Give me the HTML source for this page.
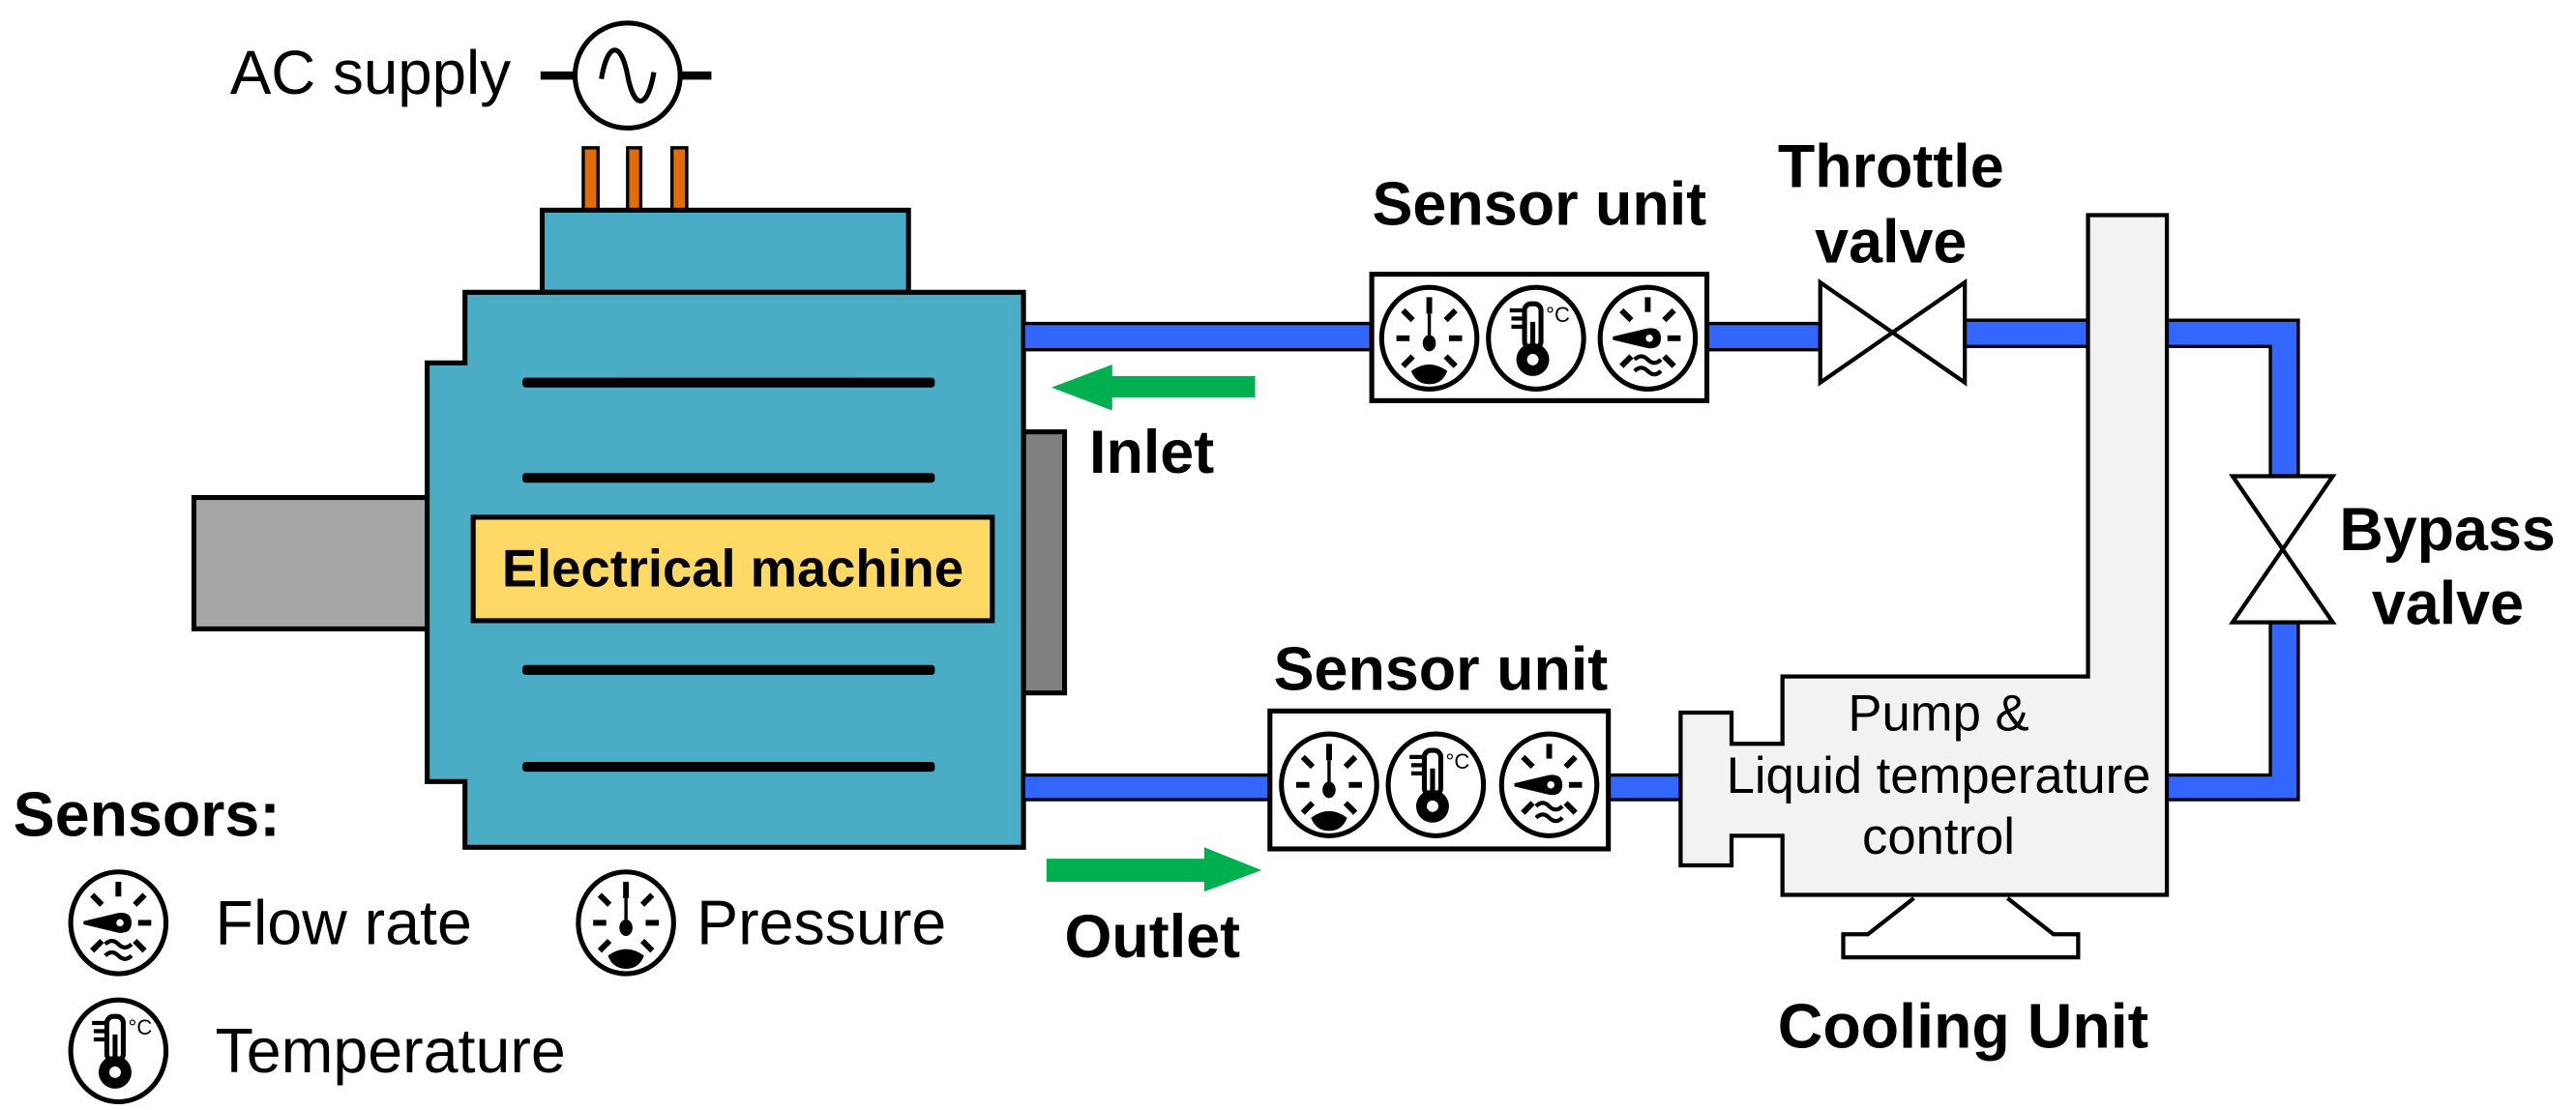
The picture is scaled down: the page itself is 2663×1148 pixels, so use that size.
<!DOCTYPE html>
<html><head><meta charset="utf-8"><style>
html,body{margin:0;padding:0;background:#fff;}
svg{display:block;}
text{font-family:"Liberation Sans",Arial,sans-serif;}
.b{font-weight:bold;}
</style></head><body>
<svg width="2663" height="1148" viewBox="0 0 1568 676" xmlns="http://www.w3.org/2000/svg">
<defs>
<g id="pr">
<ellipse cx="0" cy="0" rx="29" ry="31" fill="#fff" stroke="#000" stroke-width="3"/>
<g stroke="#000" stroke-width="3.5">
<line x1="0" y1="-25" x2="0" y2="-15"/>
<line x1="-20" y1="0" x2="-12" y2="0"/><line x1="12" y1="0" x2="20" y2="0"/>
<line x1="-16" y1="-17" x2="-10" y2="-11"/><line x1="16" y1="-17" x2="10" y2="-11"/>
<line x1="-16" y1="17" x2="-10" y2="11"/><line x1="16" y1="17" x2="10" y2="11"/>
<line x1="0" y1="-15" x2="0" y2="0" stroke-width="2"/>
</g>
<ellipse cx="0" cy="3" rx="4" ry="5" fill="#000"/>
<path d="M-11 20 Q0 12 11 20 Q8 28 0 28 Q-8 28 -11 20Z" fill="#000"/>
</g>
<g id="tp">
<ellipse cx="0" cy="0" rx="29" ry="31" fill="#fff" stroke="#000" stroke-width="3"/>
<rect x="-7" y="-21" width="10" height="27" rx="4" fill="#fff" stroke="#000" stroke-width="3"/>
<circle cx="-2" cy="13" r="10" fill="#000"/>
<circle cx="-2" cy="13" r="3.5" fill="#fff"/>
<line x1="-2" y1="-10" x2="-2" y2="8" stroke="#000" stroke-width="3"/>
<g stroke="#000" stroke-width="2.5"><line x1="-16" y1="-17" x2="-7" y2="-17"/><line x1="-15" y1="-12" x2="-7" y2="-12"/><line x1="-15" y1="-7" x2="-7" y2="-7"/></g>
<text x="6" y="-10" font-size="13">°C</text>
</g>
<g id="fl">
<ellipse cx="0" cy="0" rx="29" ry="31" fill="#fff" stroke="#000" stroke-width="3"/>
<g stroke="#000" stroke-width="3.5">
<line x1="0" y1="-25" x2="0" y2="-16"/>
<line x1="12" y1="0" x2="20" y2="0"/>
<line x1="-16" y1="-17" x2="-10" y2="-11"/><line x1="16" y1="-17" x2="10" y2="-11"/>
<line x1="-16" y1="17" x2="-10" y2="11"/><line x1="16" y1="17" x2="10" y2="11"/>
</g>
<path d="M-21 0 L0 -5 Q7 -6 7 0 Q7 6 0 5Z" fill="#000" stroke="#000" stroke-width="2"/>
<circle cx="1" cy="0" r="2.2" fill="#fff"/>
<path d="M-8 13 q4 -4 8 0 t8 0 M-8 20 q4 -4 8 0 t8 0" fill="none" stroke="#000" stroke-width="2.5"/>
</g>
</defs>

<!-- AC supply -->
<text x="140" y="57" font-size="37.5">AC supply</text>
<line x1="329" y1="46" x2="350" y2="46" stroke="#000" stroke-width="5"/>
<line x1="414" y1="46" x2="433" y2="46" stroke="#000" stroke-width="5"/>
<circle cx="382" cy="46" r="32" fill="#fff" stroke="#000" stroke-width="3"/>
<path d="M366 48 C370 25 378 25 382 46 C386 67 394 67 398 44" fill="none" stroke="#000" stroke-width="3"/>
<g fill="#e36c0a" stroke="#000" stroke-width="2">
<rect x="355" y="90" width="9" height="38"/><rect x="382" y="90" width="8" height="38"/><rect x="409" y="90" width="9" height="38"/>
</g>

<!-- machine -->
<rect x="118" y="303" width="143" height="80" fill="#a6a6a6" stroke="#000" stroke-width="3"/>
<rect x="623" y="263" width="25" height="159" fill="#808080" stroke="#000" stroke-width="3"/>
<rect x="330" y="128" width="223" height="50" fill="#4bacc6" stroke="#000" stroke-width="3"/>
<path d="M283 178 H623 V516 H283 V476 H260 V221 H283 Z" fill="#4bacc6" stroke="#000" stroke-width="3"/>
<g fill="#000">
<rect x="318" y="230" width="251" height="6" rx="2"/>
<rect x="318" y="288" width="251" height="6" rx="2"/>
<rect x="318" y="405" width="251" height="6" rx="2"/>
<rect x="318" y="464" width="251" height="6" rx="2"/>
</g>
<rect x="288" y="315" width="316" height="63" fill="#ffd966" stroke="#000" stroke-width="3"/>
<text x="446" y="357" font-size="32" class="b" text-anchor="middle">Electrical machine</text>

<!-- pipes -->
<g fill="#3366ff" stroke="#000" stroke-width="2">
<rect x="623" y="197" width="212" height="16"/>
<rect x="1039" y="197" width="69" height="16"/>
<rect x="1196" y="195" width="75" height="16"/>
<rect x="623" y="472" width="150" height="15"/>
<rect x="979" y="472" width="44" height="15"/>
<path d="M1319 195 H1399 V290 H1382 V211 H1319 Z"/>
<path d="M1319 487 H1399 V379 H1382 V472 H1319 Z"/>
</g>

<!-- arrows -->
<path d="M764 229 H677 V222 L640 236 L677 250 V242 H764 Z" fill="#00b050"/>
<path d="M637 523 H733 V516 L768 530 L733 543 V537 H637 Z" fill="#00b050"/>
<text x="663" y="288" font-size="37" class="b">Inlet</text>
<text x="648" y="583" font-size="37" class="b">Outlet</text>

<!-- top sensor unit -->
<text x="937" y="137" font-size="37" class="b" text-anchor="middle">Sensor unit</text>
<rect x="835" y="167" width="204" height="77" fill="#fff" stroke="#000" stroke-width="3"/>
<use href="#pr" x="870" y="206"/><use href="#tp" x="935" y="206"/><use href="#fl" x="1003" y="206"/>

<!-- bottom sensor unit -->
<text x="877" y="420" font-size="37" class="b" text-anchor="middle">Sensor unit</text>
<rect x="773" y="433" width="206" height="84" fill="#fff" stroke="#000" stroke-width="3"/>
<use href="#pr" x="809" y="478"/><use href="#tp" x="874" y="478"/><use href="#fl" x="943" y="478"/>

<!-- throttle valve -->
<text x="1151" y="114" font-size="37" class="b" text-anchor="middle">Throttle</text>
<text x="1151" y="160" font-size="37" class="b" text-anchor="middle">valve</text>
<path d="M1108 172 L1196 233 V172 L1108 233 Z" fill="#fff" stroke="#000" stroke-width="2.5"/>

<!-- bypass valve -->
<path d="M1359 290 H1420 L1359 379 H1420 Z" fill="#fff" stroke="#000" stroke-width="2.5"/>
<text x="1424" y="335" font-size="37" class="b">Bypass</text>
<text x="1490" y="380" font-size="37" class="b" text-anchor="middle">valve</text>

<!-- cooling unit -->
<path d="M1271 131 H1319 V545 H1085 V509 H1054 V527 H1023 V434 H1054 V453 H1085 V412 H1271 Z" fill="#f2f2f2" stroke="#000" stroke-width="2.5"/>
<path d="M1165 547 L1137 569 H1122 V583 H1265 V569 H1250 L1222 547" fill="#fff" stroke="#000" stroke-width="2.5"/>
<text x="1180" y="445" font-size="31" text-anchor="middle">Pump &amp;</text>
<text x="1180" y="483" font-size="31" text-anchor="middle">Liquid temperature</text>
<text x="1180" y="520" font-size="31" text-anchor="middle">control</text>
<text x="1195" y="638" font-size="38" class="b" text-anchor="middle">Cooling Unit</text>

<!-- legend -->
<text x="8" y="509" font-size="38" class="b">Sensors:</text>
<use href="#fl" x="72" y="562"/><text x="131" y="575" font-size="38">Flow rate</text>
<use href="#pr" x="381" y="562"/><text x="424" y="575" font-size="38">Pressure</text>
<use href="#tp" x="72" y="640"/><text x="131" y="653" font-size="38">Temperature</text>
</svg>
</body></html>
